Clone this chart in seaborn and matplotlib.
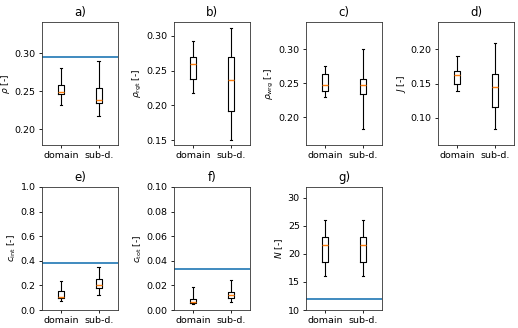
import numpy as np
import pandas as pd
import seaborn as sns
import matplotlib.pyplot as plt
from matplotlib.ticker import MultipleLocator

groups = ['domain', 'sub-d.']

# five-number summaries: whislo, q1, median, q3, whishi
rho_dom = [0.232, 0.246, 0.249, 0.258, 0.281]
rho_sub = [0.217, 0.234, 0.238, 0.254, 0.290]
rgt_dom = [0.218, 0.238, 0.259, 0.269, 0.293]
rgt_sub = [0.151, 0.192, 0.237, 0.270, 0.312]
wrg_dom = [0.229, 0.238, 0.247, 0.263, 0.276]
wrg_sub = [0.182, 0.234, 0.248, 0.256, 0.300]
j_dom = [0.139, 0.149, 0.163, 0.168, 0.190]
j_sub = [0.083, 0.115, 0.145, 0.164, 0.209]
cint_dom = [0.077, 0.100, 0.104, 0.152, 0.233]
cint_sub = [0.120, 0.182, 0.203, 0.248, 0.352]
ctot_dom = [0.0050, 0.0058, 0.0065, 0.0090, 0.0183]
ctot_sub = [0.0068, 0.0100, 0.0125, 0.0143, 0.0240]
n_dom = [16, 18.5, 21.5, 23, 26]
n_sub = [16, 18.5, 21.5, 23, 26]

# reference lines
rho_ref = 0.2955
cint_ref = 0.382
ctot_ref = 0.033
n_ref = 12

panels = [
    ('a)', r'$\rho$ [-]', rho_dom, rho_sub, rho_ref, (0.179, 0.341), 0.05),
    ('b)', r'$\rho_\mathrm{rgt}$ [-]', rgt_dom, rgt_sub, None, (0.143, 0.320), 0.05),
    ('c)', r'$\rho_\mathrm{wrg}$ [-]', wrg_dom, wrg_sub, None, (0.159, 0.340), 0.05),
    ('d)', r'$J$ [-]', j_dom, j_sub, None, (0.060, 0.240), 0.05),
    ('e)', r'$c_\mathrm{int}$ [-]', cint_dom, cint_sub, cint_ref, (0.0, 1.0), 0.2),
    ('f)', r'$c_\mathrm{tot}$ [-]', ctot_dom, ctot_sub, ctot_ref, (0.0, 0.10), 0.02),
    ('g)', r'$N$ [-]', n_dom, n_sub, n_ref, (10, 31.9), 5),
]

fig, axes = plt.subplots(2, 4, figsize=(5.18, 3.28), dpi=100)
plt.subplots_adjust(left=42/518, right=514/518, top=1-22/328, bottom=1-310/328,
                    wspace=0.74, hspace=0.34)

for ax, (title, ylabel, dom, sub, ref, ylim, step) in zip(axes.flat, panels):
    df = pd.DataFrame({'group': [groups[0]]*len(dom) + [groups[1]]*len(sub),
                       'value': dom + sub})
    sns.boxplot(data=df, x='group', y='value', ax=ax, fill=False, color='black',
                width=0.15, whis=(0, 100), linewidth=0.8,
                medianprops={'color': '#ff7f0e', 'linewidth': 1.0})
    if ref is not None:
        ax.axhline(ref, color='#1f77b4', lw=1.2)
    ax.set_ylim(*ylim)
    ax.yaxis.set_major_locator(MultipleLocator(step))
    ax.set_xlim(-0.5, 1.5)
    ax.set_title(title, fontsize=8.5, pad=4)
    ax.set_xlabel('')
    ax.set_ylabel(ylabel, fontsize=6.5, labelpad=2)
    ax.tick_params(labelsize=6.8, length=2.5, width=0.6, pad=2)
    for s in ax.spines.values():
        s.set_linewidth(0.6)
        s.set_color('#333333')

axes[1, 3].axis('off')

fig.savefig('out.png', dpi=100)
